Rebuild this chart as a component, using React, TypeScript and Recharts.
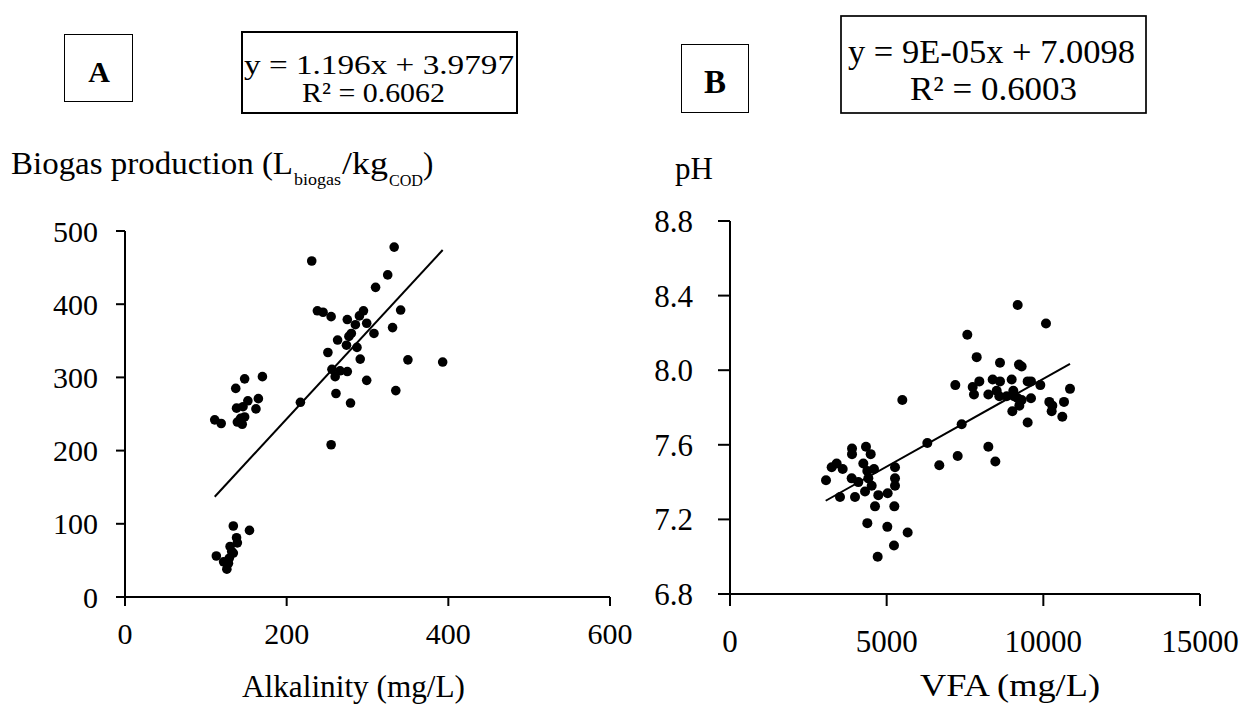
import React from 'react';
import { ScatterChart, Scatter, XAxis, YAxis, ReferenceLine } from 'recharts';

// Panel A: Alkalinity (mg/L) vs Biogas production
const alkalinity = [
  111, 119, 137, 148, 170, 152, 165, 138, 146, 162, 148, 139, 145, 143,
  134, 154, 138, 139, 130, 132, 113, 122, 128, 126, 134, 129,
  231, 333, 325, 310, 341, 238, 245, 255, 275, 295, 290, 299, 285, 331, 308, 277, 263, 274, 287, 280,
  251, 291, 350, 393, 256, 266, 275, 260, 299, 335, 261, 279, 217, 255,
];
const biogas = [
  242, 237, 285, 298, 301, 268, 271, 258, 260, 257, 246, 239, 236, 244,
  97, 91, 81, 74, 69, 62, 56, 48, 46, 38, 60, 53,
  459, 478, 440, 423, 392, 391, 389, 383, 379, 391, 384, 374, 372, 368, 360, 356, 351, 344, 341, 360,
  334, 325, 324, 321, 311, 309, 308, 301, 296, 282, 278, 265, 266, 208,
];
const trendAX = [111, 393];
const trendAY = [137, 474];
const ticksAX = [0, 200, 400, 600];
const ticksAY = [0, 100, 200, 300, 400, 500];

// Panel B: VFA (mg/L) vs pH
const vfa = [
  3894, 3894, 4340, 4490, 3245, 3404, 3596, 3064, 3883, 4096, 4255, 4383, 4596, 4415, 4522, 4309,
  3511, 3989, 4734, 5032, 5266, 5266, 5266, 4628, 5245, 4383, 5021, 5670, 5234, 4713, 6680, 7266, 8468,
  9181, 10085, 7574, 7873, 8617, 9223, 9308, 7191, 7745, 7957, 7787, 8383, 8617, 8990, 9500, 9606,
  9904, 10851, 8245, 8511, 8595, 8830, 9042, 9064, 9181, 9308, 9606, 9234, 9011, 10191, 10287, 10266,
  10660, 10606, 9500, 5500, 7394, 6298, 8245,
];
const ph = [
  7.58, 7.55, 7.59, 7.55, 7.48, 7.5, 7.47, 7.41, 7.42, 7.4, 7.5, 7.46, 7.47, 7.42, 7.38, 7.35,
  7.32, 7.32, 7.33, 7.34, 7.48, 7.42, 7.38, 7.27, 7.27, 7.18, 7.16, 7.13, 7.06, 7.0, 7.49, 7.54, 7.51,
  8.35, 8.25, 8.19, 8.07, 8.04, 8.03, 8.02, 7.92, 7.91, 7.94, 7.87, 7.95, 7.94, 7.95, 7.94, 7.94,
  7.92, 7.9, 7.87, 7.89, 7.86, 7.86, 7.89, 7.86, 7.85, 7.84, 7.85, 7.81, 7.78, 7.83, 7.81, 7.78,
  7.83, 7.75, 7.72, 7.84, 7.71, 7.61, 7.59,
];
const trendBX = [3054, 10851];
const trendBY = [7.3, 8.034];
const ticksBX = [0, 5000, 10000, 15000];
const ticksBY = [6.8, 7.2, 7.6, 8.0, 8.4, 8.8];

const dataA = alkalinity.map((x, i) => ({ x, y: biogas[i] }));
const dataB = vfa.map((x, i) => ({ x, y: ph[i] }));

const SERIF = 'Liberation Serif';

const dotA = (p: any) => <circle cx={p.cx} cy={p.cy} r={4.8} fill="#000" />;
const dotB = (p: any) => <circle cx={p.cx} cy={p.cy} r={5} fill="#000" />;

const axisStroke = { stroke: '#000', strokeWidth: 2 };

const makeXTick = (size: number, fmt: (v: number) => string) => (p: any) => (
  <text x={p.x} y={p.y} dy="0.71em" textAnchor="middle" fontFamily={SERIF} fontSize={size} fill="#000">
    {fmt(p.payload.value)}
  </text>
);
const makeYTick = (size: number, fmt: (v: number) => string) => (p: any) => (
  <text x={p.x} y={p.y} dy="0.355em" textAnchor="end" fontFamily={SERIF} fontSize={size} fill="#000">
    {fmt(p.payload.value)}
  </text>
);
const intFmt = (v: number) => String(v);
const oneDec = (v: number) => v.toFixed(1);

export default function App() {
  return (
    <div style={{ position: 'absolute', left: 0, top: 0, width: 1243, height: 706, background: '#fff', overflow: 'hidden' }}>
      <div style={{ position: 'absolute', left: 0, top: 0 }}>
        <ScatterChart width={660} height={706} margin={{ top: 231, right: 50, bottom: 0, left: 0 }}>
          <XAxis
            type="number"
            dataKey="x"
            domain={[0, 600]}
            ticks={ticksAX}
            interval={0}
            height={109}
            tickSize={9}
            tickMargin={17}
            axisLine={axisStroke}
            tickLine={axisStroke}
            tick={makeXTick(30, intFmt)}
          />
          <YAxis
            type="number"
            dataKey="y"
            domain={[0, 500]}
            ticks={ticksAY}
            interval={0}
            width={125}
            tickSize={9}
            tickMargin={18}
            axisLine={axisStroke}
            tickLine={axisStroke}
            tick={makeYTick(30, intFmt)}
          />
          <Scatter data={dataA} shape={dotA} isAnimationActive={false} />
          <ReferenceLine
            segment={[
              { x: trendAX[0], y: trendAY[0] },
              { x: trendAX[1], y: trendAY[1] },
            ]}
            stroke="#000"
            strokeWidth={2}
          />
        </ScatterChart>
      </div>
      <div style={{ position: 'absolute', left: 620, top: 0 }}>
        <ScatterChart width={623} height={706} margin={{ top: 221, right: 43, bottom: 0, left: 0 }}>
          <XAxis
            type="number"
            dataKey="x"
            domain={[0, 15000]}
            ticks={ticksBX}
            interval={0}
            height={112}
            tickSize={12}
            tickMargin={24}
            axisLine={axisStroke}
            tickLine={axisStroke}
            tick={makeXTick(31, intFmt)}
          />
          <YAxis
            type="number"
            dataKey="y"
            domain={[6.8, 8.8]}
            ticks={ticksBY}
            interval={0}
            width={110}
            tickSize={12}
            tickMargin={25}
            axisLine={axisStroke}
            tickLine={axisStroke}
            tick={makeYTick(31, oneDec)}
          />
          <Scatter data={dataB} shape={dotB} isAnimationActive={false} />
          <ReferenceLine
            segment={[
              { x: trendBX[0], y: trendBY[0] },
              { x: trendBX[1], y: trendBY[1] },
            ]}
            stroke="#000"
            strokeWidth={2}
          />
        </ScatterChart>
      </div>
      <svg
        width={1243}
        height={706}
        style={{ position: 'absolute', left: 0, top: 0, pointerEvents: 'none' }}
      >
        {/* Panel A annotations */}
        <rect x={64.5} y={34.5} width={68} height={67} fill="none" stroke="#000" strokeWidth={1} />
        <text fontFamily={SERIF} x={99} y={82} textAnchor="middle" fontSize={30} fontWeight="bold" fill="#000">A</text>
        <rect x={242} y={32} width={275} height={81} fill="none" stroke="#000" strokeWidth={2} />
        <text fontFamily={SERIF} x={244} y={74} fontSize={28} fill="#000" textLength={270} lengthAdjust="spacingAndGlyphs">y = 1.196x + 3.9797</text>
        <text fontFamily={SERIF} x={302} y={102} fontSize={28} fill="#000" textLength={143} lengthAdjust="spacingAndGlyphs">R² = 0.6062</text>
        <text fontFamily={SERIF} x={11} y={174} fontSize={31} fill="#000" textLength={282} lengthAdjust="spacingAndGlyphs">Biogas production (L</text>
        <text fontFamily={SERIF} x={294} y={185} fontSize={16} fill="#000" textLength={47} lengthAdjust="spacingAndGlyphs">biogas</text>
        <text fontFamily={SERIF} x={342} y={174} fontSize={31} fill="#000" textLength={46} lengthAdjust="spacingAndGlyphs">/kg</text>
        <text fontFamily={SERIF} x={389} y={186} fontSize={16} fill="#000" textLength={34} lengthAdjust="spacingAndGlyphs">COD</text>
        <text fontFamily={SERIF} x={423} y={174} fontSize={31} fill="#000">)</text>
        <text fontFamily={SERIF} x={242} y={697} fontSize={32} fill="#000" textLength={223} lengthAdjust="spacingAndGlyphs">Alkalinity (mg/L)</text>

        {/* Panel B annotations */}
        <rect x={681.5} y={44.5} width={67} height={68} fill="none" stroke="#000" strokeWidth={1} />
        <text fontFamily={SERIF} x={715} y={93} textAnchor="middle" fontSize={33} fontWeight="bold" fill="#000">B</text>
        <rect x={841} y={16} width={305} height={97} fill="none" stroke="#000" strokeWidth={1.7} />
        <text fontFamily={SERIF} x={848} y={63} fontSize={33} fill="#000" textLength={287} lengthAdjust="spacingAndGlyphs">y = 9E-05x + 7.0098</text>
        <text fontFamily={SERIF} x={910} y={100} fontSize={33} fill="#000" textLength={167} lengthAdjust="spacingAndGlyphs">R² = 0.6003</text>
        <text fontFamily={SERIF} x={675} y={179} fontSize={31} fill="#000">pH</text>
        <text fontFamily={SERIF} x={920} y={696} fontSize={31} fill="#000" textLength={180} lengthAdjust="spacingAndGlyphs">VFA (mg/L)</text>
      </svg>
    </div>
  );
}
